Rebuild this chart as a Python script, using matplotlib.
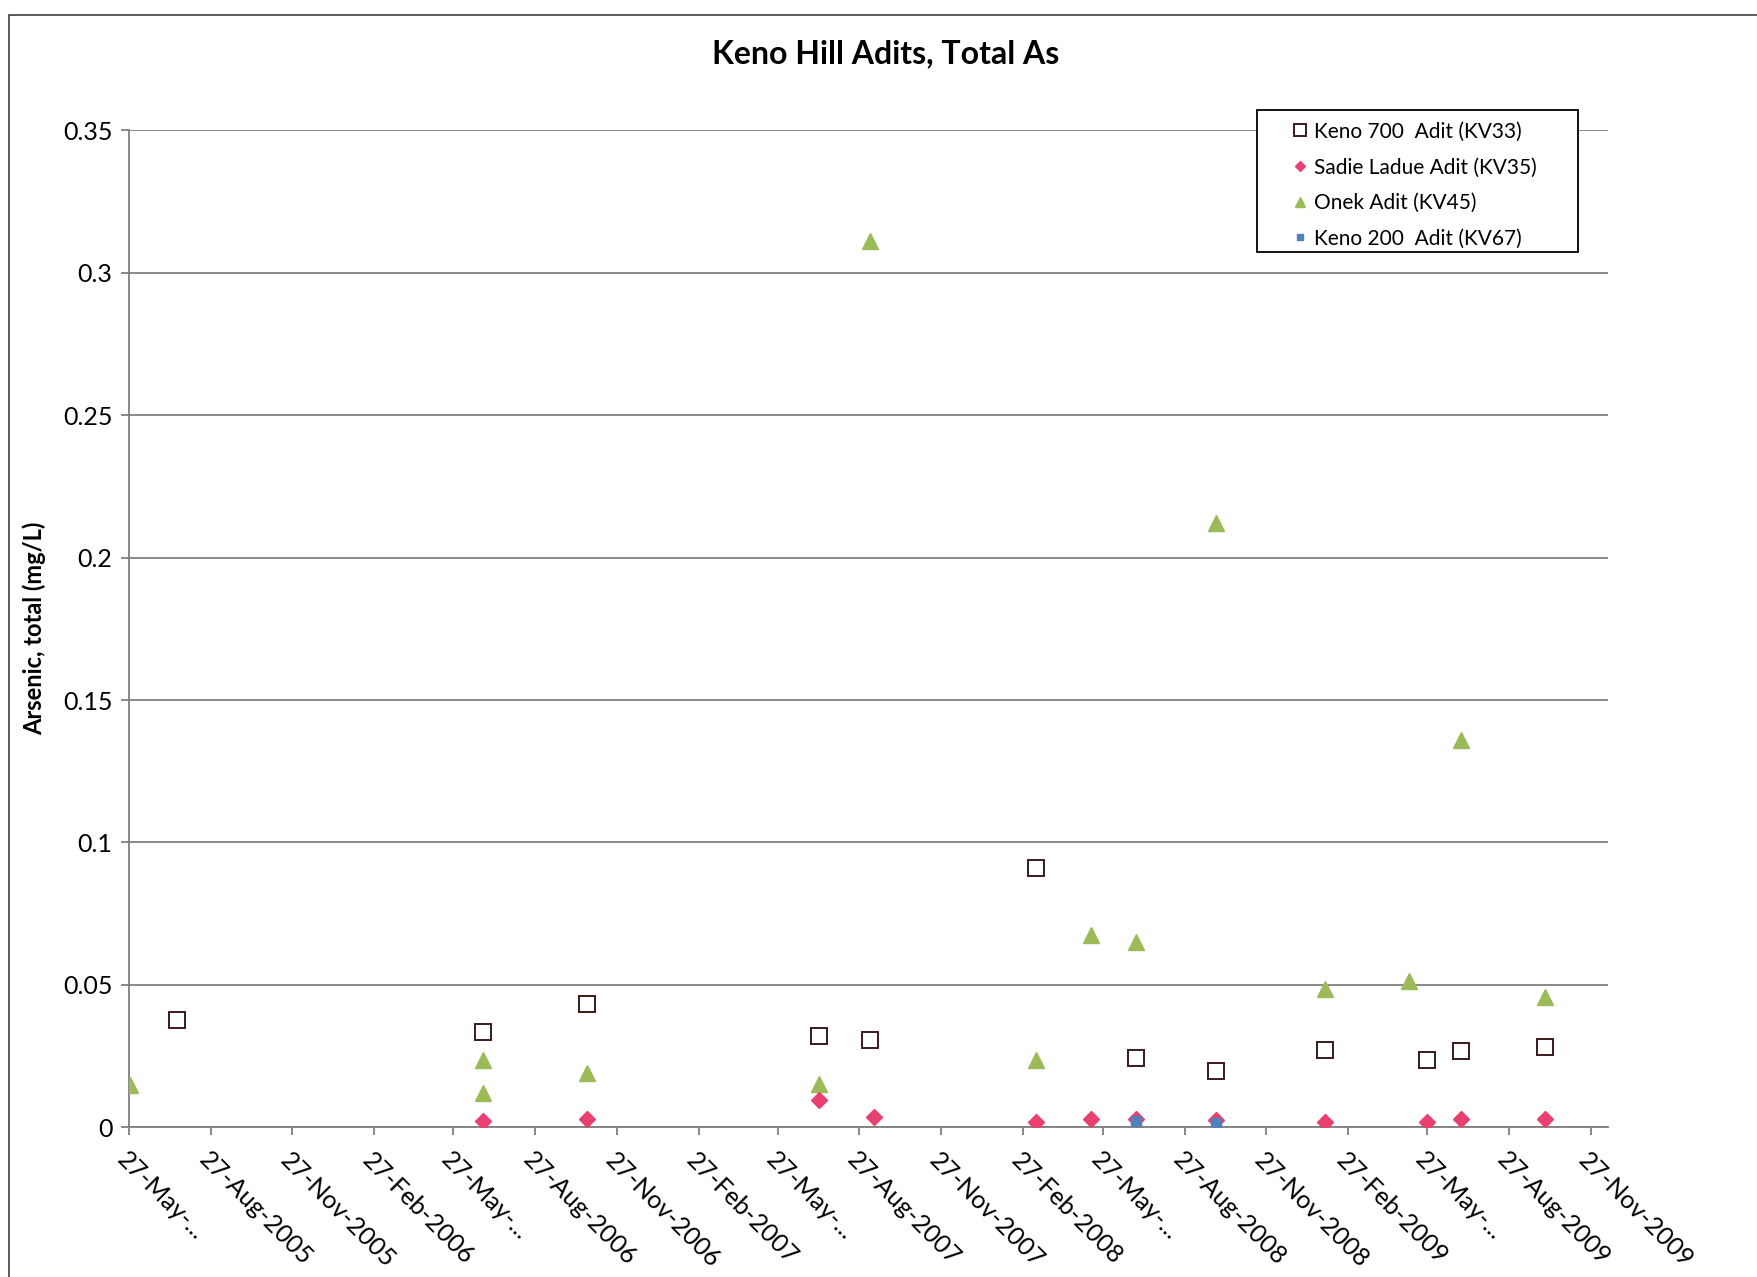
import matplotlib
matplotlib.use("Agg")
import matplotlib.pyplot as plt
from matplotlib.patches import Rectangle
from datetime import datetime

plt.rcParams["font.family"] = ["Lato", "DejaVu Sans"]

# ---- data ----
kv33_dates = ["2005-07-20", "2006-06-29", "2006-10-24", "2007-07-12", "2007-09-08",
              "2008-03-13", "2008-07-03", "2008-10-01", "2009-02-01", "2009-05-27",
              "2009-07-04", "2009-10-06"]
kv33_vals = [0.0377, 0.0334, 0.0432, 0.0322, 0.0307, 0.0912, 0.0244, 0.0197,
             0.0271, 0.0236, 0.0267, 0.0283]

kv35_dates = ["2006-06-29", "2006-10-24", "2007-07-12", "2007-09-12", "2008-03-13",
              "2008-05-14", "2008-07-03", "2008-10-01", "2009-02-01", "2009-05-27",
              "2009-07-04", "2009-10-06"]
kv35_vals = [0.0022, 0.0030, 0.0095, 0.0035, 0.0020, 0.0028, 0.0028, 0.0026,
             0.0020, 0.0020, 0.0028, 0.0028]

kv45_dates = ["2005-05-28", "2006-06-29", "2006-06-29", "2006-10-24", "2007-07-12",
              "2007-09-08", "2008-03-13", "2008-05-14", "2008-07-03", "2008-10-01",
              "2009-02-01", "2009-05-07", "2009-07-04", "2009-10-06"]
kv45_vals = [0.0149, 0.0236, 0.0122, 0.0189, 0.0153, 0.311, 0.0236, 0.0676,
             0.0652, 0.2122, 0.0487, 0.0515, 0.136, 0.0456]

kv67_dates = ["2008-07-03", "2008-10-01"]
kv67_vals = [0.0022, 0.0016]

tick_dates = ["2005-05-27", "2005-08-27", "2005-11-27", "2006-02-27", "2006-05-27",
              "2006-08-27", "2006-11-27", "2007-02-27", "2007-05-27", "2007-08-27",
              "2007-11-27", "2008-02-27", "2008-05-27", "2008-08-27", "2008-11-27",
              "2009-02-27", "2009-05-27", "2009-08-27", "2009-11-27"]
tick_labels = ["27-May-...", "27-Aug-2005", "27-Nov-2005", "27-Feb-2006", "27-May-...",
               "27-Aug-2006", "27-Nov-2006", "27-Feb-2007", "27-May-...", "27-Aug-2007",
               "27-Nov-2007", "27-Feb-2008", "27-May-...", "27-Aug-2008", "27-Nov-2008",
               "27-Feb-2009", "27-May-...", "27-Aug-2009", "27-Nov-2009"]
y_ticks = [0, 0.05, 0.1, 0.15, 0.2, 0.25, 0.3, 0.35]
y_labels = ["0", "0.05", "0.1", "0.15", "0.2", "0.25", "0.3", "0.35"]


def to_dt(lst):
    return [datetime.strptime(s, "%Y-%m-%d") for s in lst]


GRID = "#7f7f7f"

fig = plt.figure(figsize=(17.57, 12.77), dpi=100)
ax = fig.add_axes([0.0734, 0.1172, 0.8416, 0.7808])

ax.plot(to_dt(kv33_dates), kv33_vals, ls="none", marker="s", ms=12,
        mfc="white", mec="#3a1a1a", mew=1.4, label="Keno 700  Adit (KV33)", zorder=3)
ax.plot(to_dt(kv35_dates), kv35_vals, ls="none", marker="D", ms=8,
        mfc="#e8406f", mec="#e8406f", label="Sadie Ladue Adit (KV35)", zorder=4)
ax.plot(to_dt(kv45_dates), kv45_vals, ls="none", marker="^", ms=11,
        mfc="#9bbb59", mec="#9bbb59", label="Onek Adit (KV45)", zorder=3)
ax.plot(to_dt(kv67_dates), kv67_vals, ls="none", marker="s", ms=7,
        mfc="#4f81bd", mec="#4f81bd", label="Keno 200  Adit (KV67)", zorder=5)

ax.set_xlim(datetime(2005, 5, 27), datetime(2009, 12, 16))
ax.set_ylim(0, 0.35)

ax.set_yticks(y_ticks)
ax.set_yticklabels(y_labels, fontsize=18)
ax.set_xticks(to_dt(tick_dates))
ax.set_xticklabels(tick_labels, fontsize=18, rotation=-45, ha="left",
                   va="top", rotation_mode="anchor")

ax.grid(axis="y", color=GRID, lw=1.3)
ax.set_axisbelow(True)
for side in ["top", "right"]:
    ax.spines[side].set_visible(False)
for side in ["left", "bottom"]:
    ax.spines[side].set_color(GRID)
    ax.spines[side].set_linewidth(1.3)
ax.tick_params(axis="both", color=GRID, width=1.3, length=6, pad=6)
ax.tick_params(axis="x", pad=9)

ax.set_ylabel("Arsenic, total (mg/L)", fontsize=17, fontweight="bold", labelpad=12)
fig.text(0.504, 0.958, "Keno Hill Adits, Total As", fontsize=23,
         fontweight="bold", ha="center", va="center")

# legend without its own frame, box drawn separately to match the wide padding
leg = ax.legend(loc="upper left", bbox_to_anchor=(0.788, 1.0085),
                borderaxespad=0, borderpad=0, fontsize=15, frameon=False,
                handlelength=0.6, handletextpad=0.35, markerscale=0.7,
                labelspacing=0.75)
ax.add_patch(Rectangle((0.763, 0.8778), 0.217, 0.1425, transform=ax.transAxes,
                       fill=True, fc="white", ec="black", lw=1.3, zorder=6,
                       clip_on=False))
leg.set_zorder(7)

# chart area border
fig.patches.append(Rectangle((0.005, -0.02), 1.02, 1.008, transform=fig.transFigure,
                             fill=False, ec="#404040", lw=1.2))

fig.savefig("out.png", dpi=100, facecolor="white")
